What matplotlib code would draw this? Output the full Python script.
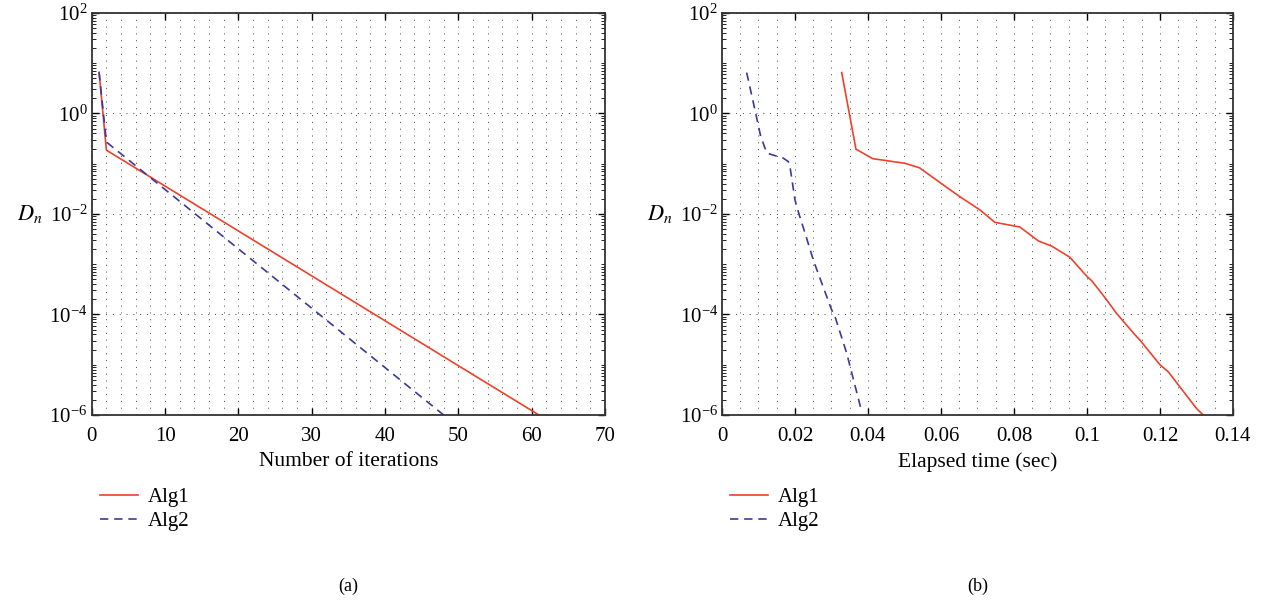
import numpy as np
import matplotlib
matplotlib.use('Agg')
import matplotlib.pyplot as plt
from matplotlib.ticker import MultipleLocator, LogLocator, NullFormatter, FixedLocator

# (a) error vs. iteration count
iters_alg1 = [1, 2, 61]
err_alg1 = [6.6, 0.186, 1.0e-6]
iters_alg2 = [1, 2, 48]
err_alg2 = [6.6, 0.27, 1.0e-6]

# (b) error vs. elapsed time
time_alg1 = [0.0328, 0.0367, 0.0413, 0.0501, 0.0541, 0.0606, 0.0652, 0.0707, 0.0748,
             0.0816, 0.0867, 0.0903, 0.0953, 0.1001, 0.1013, 0.1054, 0.1081, 0.1132,
             0.1145, 0.1200, 0.1223, 0.1300, 0.1323]
err_alg1_t = [6.5, 0.195, 0.126, 0.102, 0.083, 0.038, 0.022, 0.012, 0.0068,
              0.0055, 0.0029, 0.0023, 0.00138, 5.6e-4, 4.7e-4, 1.95e-4, 1.05e-4, 3.9e-5,
              3.1e-5, 1.0e-5, 7.2e-6, 1.35e-6, 9.3e-7]
time_alg2 = [0.00676, 0.00904, 0.0106, 0.01224, 0.01315, 0.0168, 0.01817, 0.01863,
             0.0200, 0.02118, 0.02274, 0.02503, 0.03005, 0.03096, 0.03416, 0.03827]
err_alg2_t = [6.5, 1.17, 0.35, 0.166, 0.155, 0.129, 0.110, 0.087,
              0.019, 0.0095, 0.0042, 0.0012, 1.23e-4, 9.1e-5, 1.7e-5, 1.17e-6]

time_ticks = ['0', '0.02', '0.04', '0.06', '0.08', '0.1', '0.12', '0.14']

plt.rcParams['font.family'] = 'serif'
plt.rcParams['font.serif'] = ['Liberation Serif', 'DejaVu Serif']
plt.rcParams['mathtext.fontset'] = 'stix'

red = '#f0412a'
blue = '#3b3a9c'

fig = plt.figure(figsize=(12.62, 6.01), dpi=100)
ax1 = fig.add_axes([0.0727, 0.3095, 0.4066, 0.669])
ax2 = fig.add_axes([0.5721, 0.3095, 0.4049, 0.669])

panels = [
    (ax1, iters_alg1, err_alg1, iters_alg2, err_alg2, 'Number of iterations', '(a)'),
    (ax2, time_alg1, err_alg1_t, time_alg2, err_alg2_t, 'Elapsed time (sec)', '(b)'),
]

for ax, x1, y1, x2, y2, xlab, tag in panels:
    ax.semilogy(x1, y1, color=red, lw=1.2, label='Alg1')
    ax.semilogy(x2, y2, color=blue, lw=1.2, ls=(0, (5, 3.5)), label='Alg2')
    ax.set_ylim(1e-6, 1e2)
    ax.yaxis.set_major_locator(FixedLocator([1e-6, 1e-4, 1e-2, 1e0, 1e2]))
    ax.yaxis.set_minor_locator(LogLocator(base=10, subs=np.arange(1, 10), numticks=100))
    ax.yaxis.set_minor_formatter(NullFormatter())
    ax.tick_params(which='both', direction='in', top=True, right=True, labelsize=15)
    ax.tick_params(which='major', length=5, width=1, pad=3)
    ax.tick_params(axis='x', which='major', pad=9)
    ax.tick_params(axis='y', which='minor', length=3, width=0.6)
    ax.tick_params(axis='x', which='minor', length=0)
    ax.grid(True, axis='x', which='both', color='#444444', lw=0.7, ls=(0, (1, 6)))
    ax.grid(True, axis='y', which='major', color='#444444', lw=0.7, ls=(0, (1, 6)))
    for s in ax.spines.values():
        s.set_color('#333333')
        s.set_linewidth(1.3)
    ax.set_xlabel(xlab, fontsize=15.5, labelpad=4)
    ax.set_ylabel('$D_n$', fontsize=16, rotation=0, labelpad=14, va='center')
    ax.legend(loc='upper left', bbox_to_anchor=(0.0, -0.16), frameon=False,
              fontsize=15, handlelength=1.8, handletextpad=0.5,
              labelspacing=0.2, borderaxespad=0)
    ax.text(0.5, -0.425, tag, transform=ax.transAxes, ha='center', va='center', fontsize=13)

ax1.set_xlim(0, 70)
ax1.xaxis.set_major_locator(MultipleLocator(10))
ax1.xaxis.set_minor_locator(MultipleLocator(2))

ax2.set_xlim(0, 0.14)
ax2.set_xticks(np.arange(0, 0.141, 0.02))
ax2.set_xticklabels(time_ticks)
ax2.xaxis.set_minor_locator(MultipleLocator(0.005))

fig.savefig('out.png', dpi=100)
